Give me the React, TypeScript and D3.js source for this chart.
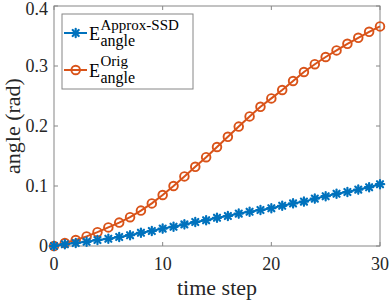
import React from "react";
import * as d3 from "d3";

const W = 390;
const H = 302;
const MARGIN = { top: 6, right: 10, bottom: 56, left: 54 };

const steps = d3.range(0, 31);
const approxSSD = [
  0, 0.003, 0.005, 0.007, 0.01, 0.012, 0.015, 0.018, 0.022, 0.025, 0.029,
  0.032, 0.036, 0.04, 0.043, 0.047, 0.05, 0.054, 0.057, 0.06, 0.063, 0.067,
  0.071, 0.074, 0.079, 0.083, 0.087, 0.09, 0.094, 0.098, 0.103,
];
const orig = [
  0, 0.005, 0.01, 0.016, 0.023, 0.031, 0.039, 0.048, 0.059, 0.071, 0.085,
  0.1, 0.116, 0.132, 0.148, 0.165, 0.182, 0.199, 0.216, 0.232, 0.246, 0.26,
  0.275, 0.29, 0.303, 0.315, 0.326, 0.337, 0.347, 0.357, 0.366,
];
const xTicks = [0, 10, 20, 30];
const yTicks = [0, 0.1, 0.2, 0.3, 0.4];

const BLUE = "#0072BD";
const ORANGE = "#D95319";
const AXIS = "#868686";
const FONT = "Liberation Serif, DejaVu Serif, serif";

const Star = ({ x, y, r = 4.2 }: { x: number; y: number; r?: number }) => {
  const d = r * 0.72;
  return (
    <g stroke={BLUE} strokeWidth={2.2} strokeLinecap="round">
      <line x1={x - r} y1={y} x2={x + r} y2={y} />
      <line x1={x} y1={y - r} x2={x} y2={y + r} />
      <line x1={x - d} y1={y - d} x2={x + d} y2={y + d} />
      <line x1={x - d} y1={y + d} x2={x + d} y2={y - d} />
    </g>
  );
};

const Circle = ({ x, y }: { x: number; y: number }) => (
  <circle cx={x} cy={y} r={4.3} fill="none" stroke={ORANGE} strokeWidth={1.9} />
);

export default function App() {
  const x = d3.scaleLinear().domain([0, 30]).range([MARGIN.left, W - MARGIN.right]);
  const y = d3.scaleLinear().domain([0, 0.4]).range([H - MARGIN.bottom, MARGIN.top]);
  const [x0, x1] = x.range();
  const [y0, y1] = y.range();

  const line = d3
    .line<number>()
    .x((_, i) => x(steps[i]))
    .y((d) => y(d));

  const txt = { fontFamily: FONT };

  return (
    <svg
      width={W}
      height={H}
      style={{ position: "absolute", left: 0, top: 0, background: "#fff", fontFamily: FONT }}
    >
      {/* box */}
      <rect x={x0} y={y1} width={x1 - x0} height={y0 - y1} fill="none" stroke={AXIS} strokeWidth={1} />
      {xTicks.map((t) => (
        <g key={"x" + t}>
          <line x1={x(t)} x2={x(t)} y1={y0} y2={y0 - 4} stroke={AXIS} />
          <line x1={x(t)} x2={x(t)} y1={y1} y2={y1 + 4} stroke={AXIS} />
          <text x={x(t)} y={y0 + 24} fontSize={18} textAnchor="middle" fill="#262626" style={txt}>
            {t}
          </text>
        </g>
      ))}
      {yTicks.map((t) => (
        <g key={"y" + t}>
          <line x1={x0} x2={x0 + 4} y1={y(t)} y2={y(t)} stroke={AXIS} />
          <line x1={x1} x2={x1 - 4} y1={y(t)} y2={y(t)} stroke={AXIS} />
          <text x={x0 - 6} y={Math.max(y(t) + 6, 15)} fontSize={18} textAnchor="end" fill="#262626" style={txt}>
            {t === 0 ? "0" : t.toString()}
          </text>
        </g>
      ))}
      <text x={(x0 + x1) / 2} y={295} fontSize={22} textAnchor="middle" fill="#262626" style={txt}>
        time step
      </text>
      <text
        transform={`translate(20,${(y0 + y1) / 2}) rotate(-90)`}
        fontSize={22}
        textAnchor="middle"
        fill="#262626"
        style={txt}
      >
        angle (rad)
      </text>

      {/* series */}
      <path d={line(orig) || ""} fill="none" stroke={ORANGE} strokeWidth={2} />
      {orig.map((v, i) => (
        <Circle key={"o" + i} x={x(steps[i])} y={y(v)} />
      ))}
      <path d={line(approxSSD) || ""} fill="none" stroke={BLUE} strokeWidth={2} />
      {approxSSD.map((v, i) => (
        <Star key={"s" + i} x={x(steps[i])} y={y(v)} />
      ))}

      {/* legend */}
      <rect x={62} y={14} width={131} height={75} fill="#fff" stroke={AXIS} strokeWidth={1} />
      <line x1={64} x2={87} y1={33} y2={33} stroke={BLUE} strokeWidth={2} />
      <Star x={75.7} y={33} />
      <text x={89} y={39.5} fontSize={18} fill="#000" style={txt}>E</text>
      <text x={100.5} y={30} fontSize={15} fill="#000" style={txt}>Approx-SSD</text>
      <text x={100.5} y={46} fontSize={16} fill="#000" style={txt}>angle</text>

      <line x1={64} x2={87} y1={70} y2={70} stroke={ORANGE} strokeWidth={2} />
      <Circle x={75.7} y={70} />
      <text x={89} y={76.5} fontSize={18} fill="#000" style={txt}>E</text>
      <text x={100.5} y={66} fontSize={15} fill="#000" style={txt}>Orig</text>
      <text x={100.5} y={83} fontSize={16} fill="#000" style={txt}>angle</text>
    </svg>
  );
}
